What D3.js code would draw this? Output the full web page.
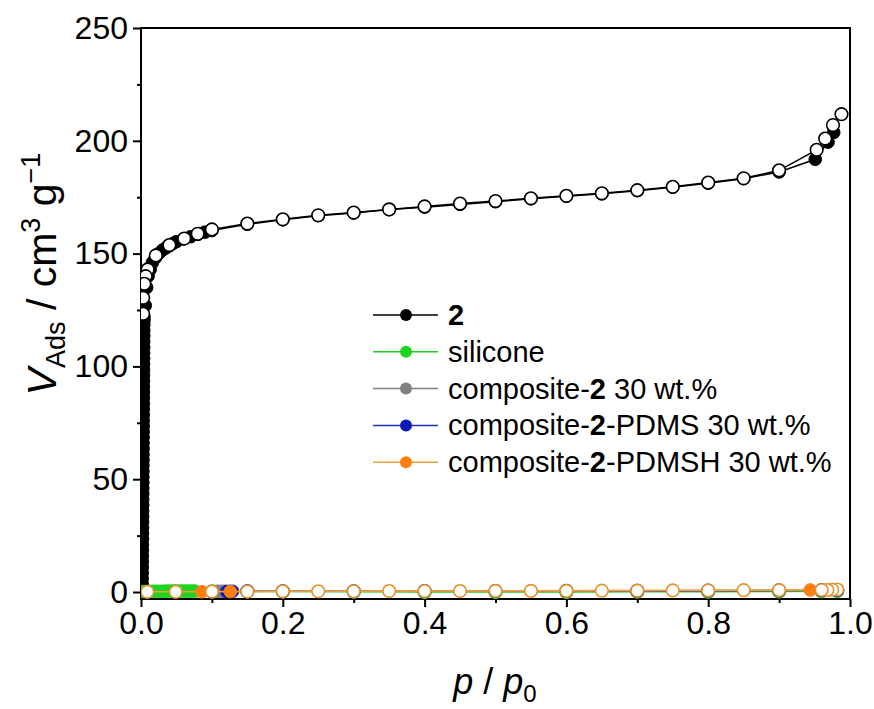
<!DOCTYPE html>
<html>
<head>
<meta charset="utf-8">
<script src="https://cdn.jsdelivr.net/npm/d3@7"></script>
<style>
  body { margin: 0; background: #fff; }
  svg { font-family: "Liberation Sans", Arial, sans-serif; }
</style>
</head>
<body>
<svg id="chart"></svg>
<script>
// ---- data (p/p0, V_Ads) ----
const ads2P = [0.0016, 0.0017, 0.0017, 0.0018, 0.0018, 0.0019, 0.0019, 0.002, 0.002, 0.0021, 0.0021, 0.0022, 0.0022, 0.0023, 0.0023, 0.0024,
  0.0024, 0.0025, 0.0025, 0.0026, 0.0026, 0.0027, 0.0027, 0.0028, 0.0028, 0.0029, 0.0029, 0.003, 0.003, 0.0031, 0.0031, 0.0032,
  0.0032, 0.0033, 0.0033, 0.0034, 0.0034, 0.0035, 0.0035, 0.0036, 0.0036, 0.0037, 0.0037, 0.0038, 0.0038, 0.0039,
  0.0039, 0.004, 0.0041, 0.0042,
  0.006, 0.008, 0.01, 0.013, 0.016, 0.02, 0.025, 0.03, 0.035, 0.04, 0.045, 0.05, 0.06, 0.07, 0.08, 0.09, 0.1,
  0.15, 0.2, 0.25, 0.3, 0.35, 0.4, 0.45, 0.5, 0.55, 0.6, 0.65, 0.7, 0.75, 0.8, 0.85, 0.9, 0.951, 0.969, 0.977];
const ads2V = [1, 3.5, 6, 8.5, 11, 13.5, 16, 18.5, 21, 23.5, 26, 28.5, 31, 33.5, 36, 38.5,
  41, 43.5, 46, 48.5, 51, 53.5, 56, 58.5, 61, 63.5, 66, 68.5, 71, 73.5, 76, 78.5,
  81, 83.5, 86, 88.5, 91, 93.5, 96, 98.5, 101, 103.5, 106, 108.5, 111, 113.5,
  116, 118.5, 120.5, 122,
  127, 135, 140, 143, 146, 148, 150, 151.5, 152.5, 153.5, 154.5, 155.3, 156.5, 157.5, 158.5, 159.5, 160.2,
  163, 165, 166.8, 168, 169.5, 170.6, 171.8, 173, 174.3, 175.4, 176.5, 177.9, 179.4, 181.2, 183.2, 186.2, 191.8, 199.4, 203.7];
const des2P = [0.988, 0.976, 0.965, 0.953, 0.9, 0.85, 0.8, 0.75, 0.7, 0.65, 0.6, 0.55, 0.5, 0.45, 0.4, 0.35, 0.3, 0.25, 0.2, 0.15,
  0.1, 0.08, 0.061, 0.04, 0.021, 0.0094, 0.0066, 0.0047, 0.003, 0.003];
const des2V = [211.8, 207, 201, 196, 186.9, 183.4, 181.5, 179.6, 178.1, 176.7, 175.6, 174.5, 173.3, 172.2, 170.9, 169.6, 168.2, 167, 165.2, 163.3,
  160.7, 158.8, 156.7, 153.8, 149.2, 143, 140, 136.6, 130.4, 123.3];

const adsSilP = [0.004, 0.008, 0.012, 0.016, 0.02, 0.024, 0.028, 0.032, 0.036, 0.04, 0.044, 0.048, 0.052, 0.056, 0.06, 0.064, 0.068, 0.072, 0.076];
const adsSilV = [0.2, 0.2, 0.3, 0.3, 0.3, 0.3, 0.3, 0.3, 0.4, 0.4, 0.4, 0.4, 0.4, 0.4, 0.4, 0.4, 0.4, 0.4, 0.4];
const desSilP = [0.982, 0.96, 0.9, 0.8, 0.7, 0.6, 0.5, 0.4, 0.3, 0.2, 0.1];
const desSilV = [0.4, 0.3, 0.2, 0.1, 0.1, 0.0, 0.0, 0.0, 0.1, 0.2, 0.3];

const adsCompP = [0.1, 0.104, 0.108, 0.112, 0.116, 0.119];
const adsCompV = [0.2, 0.2, 0.3, 0.3, 0.3, 0.3];
const desCompP = [0.982, 0.96, 0.9, 0.8, 0.7, 0.6, 0.5, 0.4, 0.3, 0.2, 0.15];
const desCompV = [0.8, 0.7, 0.6, 0.5, 0.5, 0.4, 0.4, 0.3, 0.3, 0.3, 0.3];

const adsPdmsP = [0.121, 0.125, 0.129];
const adsPdmsV = [0.2, 0.3, 0.3];
const desPdmsP = [0.982, 0.96, 0.9, 0.8, 0.7, 0.6, 0.5, 0.4, 0.3, 0.2, 0.15];
const desPdmsV = [0.9, 0.8, 0.7, 0.6, 0.5, 0.5, 0.4, 0.4, 0.3, 0.3, 0.3];

const adsPdmshP = [0.086, 0.126, 0.944];
const adsPdmshV = [0.1, 0.2, 0.9];
const desPdmshP = [0.982, 0.975, 0.968, 0.96, 0.9, 0.85, 0.8, 0.75, 0.7, 0.65, 0.6, 0.55, 0.5, 0.45, 0.4, 0.35, 0.3, 0.25, 0.2, 0.15, 0.1, 0.049, 0.009];
const desPdmshV = [1.1, 1.0, 0.9, 0.9, 0.8, 0.8, 0.7, 0.7, 0.6, 0.6, 0.5, 0.5, 0.5, 0.4, 0.4, 0.4, 0.3, 0.3, 0.3, 0.2, 0.2, 0.1, 0.1];

const yTicks = [0, 50, 100, 150, 200, 250];
const xTicks = [0.0, 0.2, 0.4, 0.6, 0.8, 1.0];
const yMinor = [25, 75, 125, 175, 225];
const xMinor = [0.1, 0.3, 0.5, 0.7, 0.9];

const series = [
  { name: "2", color: "#000", line: "#000", edge: "#000", ads: [ads2P, ads2V], des: [des2P, des2V] },
  { name: "silicone", color: "#1fd41f", line: "#22cc22", edge: "#22cc22", ads: [adsSilP, adsSilV], des: [desSilP, desSilV] },
  { name: "composite-2 30 wt.%", color: "#808080", line: "#808080", edge: "#808080", ads: [adsCompP, adsCompV], des: [desCompP, desCompV] },
  { name: "composite-2-PDMS 30 wt.%", color: "#0a1ab8", line: "#2030b8", edge: "#2030b8", ads: [adsPdmsP, adsPdmsV], des: [desPdmsP, desPdmsV] },
  { name: "composite-2-PDMSH 30 wt.%", color: "#ff7f0e", line: "#e8a040", edge: "#e8902a", ads: [adsPdmshP, adsPdmshV], des: [desPdmshP, desPdmshV] },
];

// ---- layout ----
const W = 874, H = 709;
const margin = { top: 28, right: 24, bottom: 110, left: 141 };
const width = W - margin.left - margin.right;
const height = H - margin.top - margin.bottom;

const svg = d3.select("#chart").attr("width", W).attr("height", H);
svg.append("defs").append("clipPath").attr("id", "plot-clip")
  .append("rect").attr("x", margin.left).attr("y", margin.top - 10)
  .attr("width", width + 10).attr("height", height + 10);

const chart = svg.append("g").attr("transform", `translate(${margin.left}, ${margin.top})`);

const x = d3.scaleLinear().domain([0, 1]).range([0, width]);
const y = d3.scaleLinear().domain([-3.1, 250]).range([height, 0]);

const zip = ([ps, vs]) => ps.map((p, i) => ({ p, v: vs[i] }));
const line = d3.line().x(d => x(d.p)).y(d => y(d.v));

const plot = svg.append("g").attr("clip-path", "url(#plot-clip)")
  .append("g").attr("transform", `translate(${margin.left}, ${margin.top})`);

series.forEach((s) => {
  const g = plot.append("g");
  const ads = zip(s.ads);
  const des = zip(s.des);
  g.append("path").attr("d", line(ads)).attr("fill", "none")
    .attr("stroke", s.line).attr("stroke-width", 1.5);
  g.append("path").attr("d", line(des)).attr("fill", "none")
    .attr("stroke", s.line).attr("stroke-width", 1.5);
  g.selectAll(".ads").data(ads).enter().append("circle")
    .attr("cx", d => x(d.p)).attr("cy", d => y(d.v)).attr("r", 6.3)
    .attr("fill", s.color).attr("stroke", s.color).attr("stroke-width", 1);
  g.selectAll(".des").data(des).enter().append("circle")
    .attr("cx", d => x(d.p)).attr("cy", d => y(d.v)).attr("r", 6.3)
    .attr("fill", "#fff").attr("stroke", s.edge).attr("stroke-width", 1.6);
});

// frame
chart.append("rect").attr("width", width).attr("height", height)
  .attr("fill", "none").attr("stroke", "#000").attr("stroke-width", 2);

// axes
const styleAxis = (g) => {
  g.select(".domain").remove();
  g.selectAll("line").attr("stroke", "#000").attr("stroke-width", 2);
  g.selectAll("text").attr("fill", "#000").style("font-size", "32px")
    .style("font-family", "Liberation Sans, Arial, sans-serif");
};

chart.append("g")
  .call(d3.axisLeft(y).tickValues(yTicks).tickSize(8).tickPadding(5).tickFormat(d3.format("d")))
  .call(styleAxis);
chart.append("g")
  .call(d3.axisLeft(y).tickValues(yMinor).tickSize(4).tickFormat(""))
  .call(styleAxis);
chart.append("g").attr("transform", `translate(0, ${height})`)
  .call(d3.axisBottom(x).tickValues(xTicks).tickSize(8).tickPadding(4).tickFormat(d3.format(".1f")))
  .call(styleAxis);
chart.append("g").attr("transform", `translate(0, ${height})`)
  .call(d3.axisBottom(x).tickValues(xMinor).tickSize(4).tickFormat(""))
  .call(styleAxis);

// axis titles
const yTitle = svg.append("text")
  .attr("transform", "translate(56, 274) rotate(-90)")
  .attr("text-anchor", "middle")
  .style("font-size", "41px");
yTitle.append("tspan").style("font-style", "italic").text("V");
yTitle.append("tspan").attr("dy", 9).style("font-size", "27px").text("Ads");
yTitle.append("tspan").attr("dy", -9).text(" / cm");
yTitle.append("tspan").attr("dy", -16).style("font-size", "27px").text("3");
yTitle.append("tspan").attr("dy", 16).text(" g");
yTitle.append("tspan").attr("dy", -16).style("font-size", "27px").text("\u22121");

const xTitle = svg.append("text")
  .attr("x", 495).attr("y", 694)
  .attr("text-anchor", "middle")
  .style("font-size", "36px");
xTitle.append("tspan").style("font-style", "italic").text("p");
xTitle.append("tspan").text(" / ");
xTitle.append("tspan").style("font-style", "italic").text("p");
xTitle.append("tspan").attr("dy", 8).style("font-size", "24px").text("0");

// legend
const legend = svg.append("g").attr("transform", "translate(373, 315)");
const rowH = 36.8;
series.forEach((s, i) => {
  const row = legend.append("g").attr("transform", `translate(0, ${i * rowH})`);
  row.append("line").attr("x1", 0).attr("x2", 65).attr("y1", 0).attr("y2", 0)
    .attr("stroke", s.line).attr("stroke-width", 1.5);
  row.append("circle").attr("cx", 33).attr("cy", 0).attr("r", 6)
    .attr("fill", s.color);
  const t = row.append("text").attr("x", 75).attr("y", 10).style("font-size", "29px");
  const parts = s.name.split("2");
  parts.forEach((part, j) => {
    if (part) t.append("tspan").text(part);
    if (j < parts.length - 1) t.append("tspan").style("font-weight", "bold").text("2");
  });
});
</script>
</body>
</html>
